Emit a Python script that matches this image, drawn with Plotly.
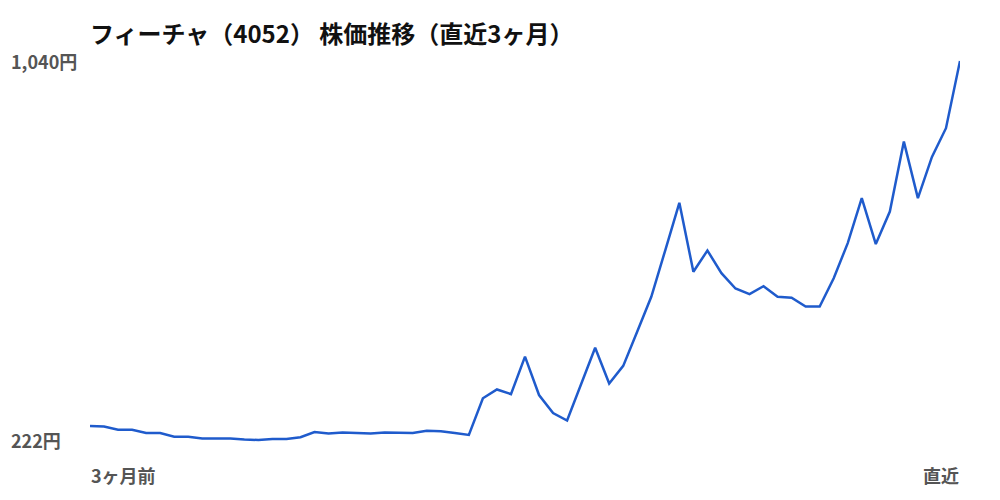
import plotly.graph_objects as go

# Share price, daily closes over the last 3 months (yen)
day_index = list(range(63))
close_yen = [
    252, 251, 244, 244, 237, 237, 229, 229, 225, 225,
    225, 223, 222, 224, 224, 228, 239, 236, 238, 237,
    236, 238, 237, 237, 242, 241, 237, 233, 312, 331,
    321, 402, 319, 280, 264, 343, 421, 344, 382, 456,
    531, 632, 734, 585, 631, 582, 549, 537, 554, 531,
    529, 510, 510, 571, 647, 744, 645, 715, 866, 744,
    833, 895, 1040,
]
y_ticks = [222, 1040]
y_tick_text = ["222円", "1,040円"]
x_labels = ["3ヶ月前", "直近"]
title_text = "フィーチャ（4052） 株価推移（直近3ヶ月）"

FONT = "Noto Sans CJK JP"
LINE_BLUE = "#1f5bcc"
LABEL_GREY = "#555555"

fig = go.Figure()
fig.add_trace(go.Scatter(
    x=day_index, y=close_yen, mode="lines",
    line=dict(color=LINE_BLUE, width=2.5),
    hoverinfo="skip", showlegend=False,
))

# y labels sit left-aligned at the far left, so draw them as annotations
annotations = []
for val, txt in zip(y_ticks, y_tick_text):
    annotations.append(dict(
        x=0, xref="paper", xanchor="left", xshift=-81,
        y=val, yref="y", yanchor="middle",
        text=f"<b>{txt}</b>", showarrow=False,
        font=dict(family=FONT, size=18, color=LABEL_GREY),
    ))
annotations.append(dict(
    x=day_index[0], xref="x", xanchor="left", xshift=-1,
    y=0, yref="paper", yanchor="middle", yshift=-33,
    text=f"<b>{x_labels[0]}</b>", showarrow=False,
    font=dict(family=FONT, size=18, color=LABEL_GREY),
))
annotations.append(dict(
    x=day_index[-1], xref="x", xanchor="right", xshift=1,
    y=0, yref="paper", yanchor="middle", yshift=-33,
    text=f"<b>{x_labels[1]}</b>", showarrow=False,
    font=dict(family=FONT, size=18, color=LABEL_GREY),
))

lo, hi = min(close_yen), max(close_yen)
pad = (hi - lo) * 0.0053

fig.update_layout(
    width=1000, height=500,
    margin=dict(l=90, r=40, t=59, b=58),
    paper_bgcolor="white", plot_bgcolor="white",
    title=dict(
        text=f"<b>{title_text}</b>",
        x=90 / 1000, xanchor="left", y=1 - 35 / 500, yanchor="middle",
        font=dict(family=FONT, size=24, color="#111111"),
    ),
    xaxis=dict(range=[day_index[0], day_index[-1]], showgrid=False,
               zeroline=False, showticklabels=False, showline=False),
    yaxis=dict(range=[lo - pad, hi + pad], showgrid=False,
               zeroline=False, showticklabels=False, showline=False),
    annotations=annotations,
)

fig.write_html("out.html", config={"displayModeBar": False},
               post_script="document.body.style.margin='0';")
